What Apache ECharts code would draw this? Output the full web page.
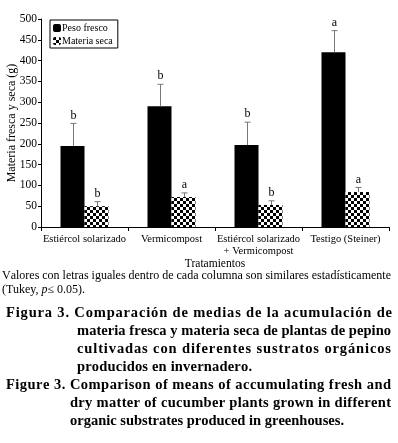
<!DOCTYPE html>
<html>
<head>
<meta charset="utf-8">
<script src="https://cdn.jsdelivr.net/npm/echarts@6/dist/echarts.min.js"></script>
<style>
html,body{margin:0;padding:0;background:#fff;}
#chart{width:398px;height:443px;}
</style>
</head>
<body>
<div id="chart"></div>
<script>
var categories = ['Estiércol solarizado', 'Vermicompost', 'Estiércol solarizado\n+ Vermicompost', 'Testigo (Steiner)'];
var freshValues = [195, 290, 197, 420];
var freshErr = [54, 53, 55, 52];
var freshLetters = ['b', 'b', 'b', 'a'];
var dryValues = [50, 72, 53, 84];
var dryErr = [11, 10, 10, 11];
var dryLetters = ['b', 'a', 'b', 'a'];
var seriesNames = ['Peso fresco', 'Materia seca'];

var serif = "'Liberation Serif', 'Times New Roman', serif";
var BAR_W = 24;

// checker pattern for dry matter bars
var pat = document.createElement('canvas');
pat.width = 6; pat.height = 6;
var pctx = pat.getContext('2d');
pctx.fillStyle = '#fff'; pctx.fillRect(0, 0, 6, 6);
pctx.fillStyle = '#000';
pctx.fillRect(0, 0, 3, 3); pctx.fillRect(3, 3, 3, 3);
var checker = {image: pat, repeat: 'repeat'};

function errItem(offset, letters) {
    return function (params, api) {
        var i = api.value(0);
        var base = api.coord([i, api.value(1)]);
        var top = api.coord([i, api.value(1) + api.value(2)]);
        var x = Math.round(base[0] + offset) + 0.5;
        return {
            type: 'group',
            children: [
                {type: 'line', shape: {x1: x, y1: base[1], x2: x, y2: top[1]}, style: {stroke: '#777', lineWidth: 1}},
                {type: 'line', shape: {x1: x - 3, y1: top[1], x2: x + 3, y2: top[1]}, style: {stroke: '#777', lineWidth: 1}},
                {type: 'text', x: x, y: top[1] - 2, style: {text: letters[params.dataIndex], font: '12px ' + serif, fill: '#000', align: 'center', verticalAlign: 'bottom'}}
            ]
        };
    };
}

function errData(vals, errs) {
    return vals.map(function (v, i) { return [i, v, errs[i]]; });
}

// justified caption lines, one text element per character
var mctx = document.createElement('canvas').getContext('2d');
function justify(str, x0, x1, y, font) {
    mctx.font = font;
    var chars = str.split('');
    var widths = chars.map(function (c) { return mctx.measureText(c).width; });
    var total = widths.reduce(function (a, b) { return a + b; }, 0);
    var extra = x1 == null ? 0 : (x1 - x0 - total) / (chars.length - 1);
    var x = x0, out = [];
    chars.forEach(function (c, i) {
        out.push({type: 'text', x: x, y: y, style: {text: c, font: font, fill: '#000', verticalAlign: 'middle'}});
        x += widths[i] + extra;
    });
    return out;
}

var bold = 'bold 14.5px ' + serif;
var reg = '12px ' + serif;
var captions = [].concat(
    justify('Valores con letras iguales dentro de cada columna son similares estadísticamente', 2, 391, 276, reg),
    justify('Figura 3. Comparación de medias de la acumulación de', 6, 392, 313, bold),
    justify('materia fresca y materia seca de plantas de pepino', 77, 391, 331, bold),
    justify('cultivadas con diferentes sustratos orgánicos', 77, 391, 349, bold),
    justify('producidos en invernadero.', 77, 252, 367, bold),
    justify('Figure 3. Comparison of means of accumulating fresh and', 6, 391, 385, bold),
    justify('dry matter of cucumber plants grown in different', 70, 391, 403, bold),
    justify('organic substrates produced in greenhouses.', 70, 344, 421, bold),
    [{
        type: 'text', x: 2, y: 290,
        style: {
            text: '(Tukey, {i|p}≤ 0.05).', font: reg, fill: '#000', verticalAlign: 'middle',
            rich: {i: {fontStyle: 'italic', fontSize: 12, fontFamily: serif}}
        }
    }]
);

var myChart = echarts.init(document.getElementById('chart'));
var option = {
    backgroundColor: '#fff',
    animation: false,
    textStyle: {fontFamily: serif, color: '#000'},
    grid: {left: 41, right: 9, top: 19, bottom: 216, outerBoundsMode: 'none'},
    legend: {
        left: 50, top: 20,
        orient: 'vertical',
        itemWidth: 8, itemHeight: 8, itemGap: 3,
        padding: [3, 5, 2, 3],
        borderColor: '#000', borderWidth: 1,
        textStyle: {fontFamily: serif, fontSize: 10, color: '#000', padding: [0, 0, 0, -4]},
        data: seriesNames
    },
    xAxis: {
        type: 'category',
        data: categories,
        name: 'Tratamientos',
        nameLocation: 'middle',
        nameGap: 31,
        nameMoveOverlap: false,
        nameTextStyle: {fontSize: 11.5, color: '#000'},
        axisLine: {lineStyle: {color: '#000'}},
        axisTick: {show: true, length: 4, lineStyle: {color: '#000'}},
        axisLabel: {fontSize: 10.5, color: '#000', margin: 6, lineHeight: 12, interval: 0}
    },
    yAxis: {
        type: 'value',
        min: 0, max: 500, interval: 50,
        name: 'Materia fresca y seca (g)',
        nameLocation: 'middle',
        nameGap: 23,
        nameMoveOverlap: false,
        nameTextStyle: {fontSize: 12, color: '#000'},
        axisLine: {show: true, lineStyle: {color: '#000'}},
        axisTick: {show: true, length: 3, lineStyle: {color: '#000'}},
        axisLabel: {fontSize: 11.5, color: '#000', margin: 4},
        splitLine: {show: false}
    },
    series: [
        {name: seriesNames[0], type: 'bar', data: freshValues, barWidth: BAR_W, barGap: '0%', itemStyle: {color: '#000'}},
        {name: seriesNames[1], type: 'bar', data: dryValues, barWidth: BAR_W, barGap: '0%', itemStyle: {color: checker}},
        {type: 'custom', renderItem: errItem(-BAR_W / 2, freshLetters), data: errData(freshValues, freshErr), encode: {x: 0, y: 1}, z: 5, silent: true},
        {type: 'custom', renderItem: errItem(BAR_W / 2, dryLetters), data: errData(dryValues, dryErr), encode: {x: 0, y: 1}, z: 5, silent: true}
    ],
    graphic: captions
};
myChart.setOption(option);
</script>
</body>
</html>
